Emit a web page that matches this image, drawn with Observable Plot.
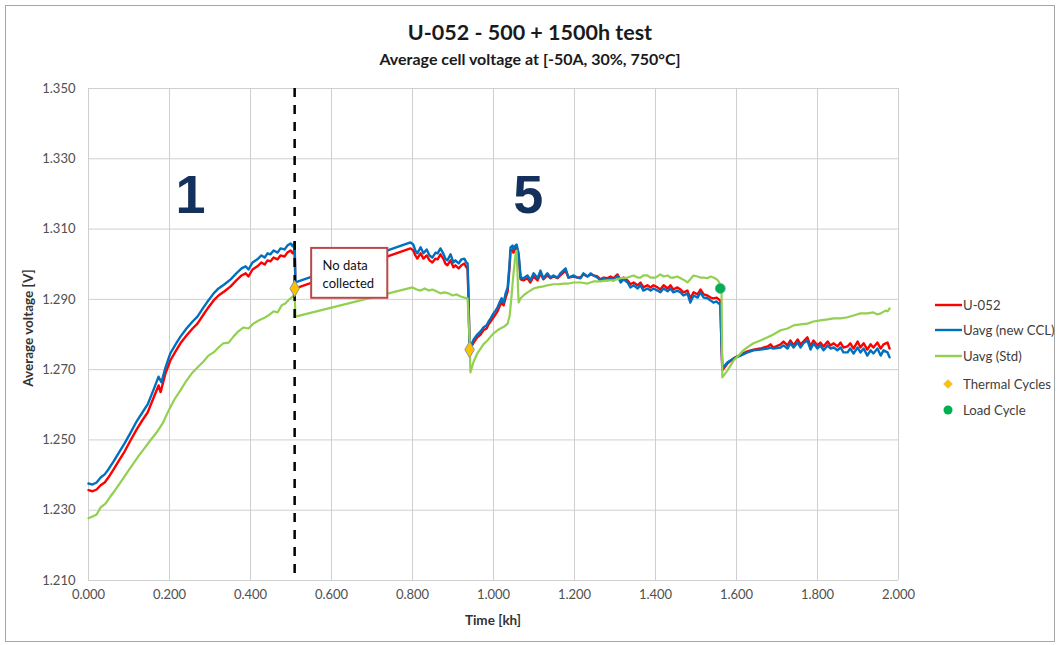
<!DOCTYPE html>
<html>
<head>
<meta charset="utf-8">
<script src="https://cdn.jsdelivr.net/npm/d3@7"></script>
<script src="https://cdn.jsdelivr.net/npm/@observablehq/plot@0.6"></script>
<style>
  html, body { margin: 0; padding: 0; background: #fff; }
  #wrap { position: relative; width: 1060px; height: 645px; font-family: Lato, "Open Sans", sans-serif; overflow: hidden; }
  #frame { position: absolute; left: 5px; top: 5px; width: 1050px; height: 637px; border: 1px solid #a6a6a6; box-sizing: border-box; }
  #title { position: absolute; left: 0; width: 1060px; top: 19px; text-align: center; font-weight: 700; font-size: 21.5px; line-height: 26px; color: #1a1a1a; }
  #subtitle { position: absolute; left: 0; width: 1060px; top: 49px; text-align: center; font-weight: 700; font-size: 16px; line-height: 20px; color: #1a1a1a; }
  #chart { position: absolute; left: 0; top: 70px; }
  #ylabel { position: absolute; left: 28px; top: 328px; transform: translate(-50%, -50%) rotate(-90deg); font-weight: 700; font-size: 13.5px; color: #333; white-space: nowrap; }
  #xlabel { position: absolute; left: 493px; top: 620px; transform: translate(-50%, -50%); font-weight: 700; font-size: 13.5px; color: #333; white-space: nowrap; }
  #legend { position: absolute; left: 934px; top: 0; font-size: 13.2px; color: #404040; }
  .item { position: absolute; left: 0; height: 18px; display: flex; align-items: center; white-space: nowrap; transform: translateY(-50%); }
  .item svg { margin-right: 1px; }
</style>
</head>
<body>
<div id="wrap">
  <div id="frame"></div>
  <div id="title">U-052 - 500 + 1500h test</div>
  <div id="subtitle">Average cell voltage at [-50A, 30%, 750°C]</div>
  <div id="chart"></div>
  <div id="ylabel">Average voltage [V]</div>
  <div id="xlabel">Time [kh]</div>
  <div id="legend"></div>
</div>
<script>
// ---- Data (time in kh, voltage in V) ----
const xTicks = [0, 0.2, 0.4, 0.6, 0.8, 1.0, 1.2, 1.4, 1.6, 1.8, 2.0];
const yTicks = [1.21, 1.23, 1.25, 1.27, 1.29, 1.31, 1.33, 1.35];

const u052 = [
 [0.000,1.2357],[0.010,1.2354],[0.020,1.2359],[0.030,1.2371],[0.040,1.2379],[0.049,1.2393],[0.062,1.2416],[0.074,1.2439],
 [0.089,1.2467],[0.104,1.2499],[0.119,1.2530],[0.133,1.2556],[0.146,1.2578],[0.165,1.2632],[0.173,1.2655],[0.178,1.2636],
 [0.190,1.2689],[0.202,1.2726],[0.215,1.2752],[0.227,1.2775],[0.242,1.2797],[0.257,1.2817],[0.269,1.2831],[0.284,1.2857],
 [0.296,1.2877],[0.309,1.2897],[0.321,1.2911],[0.336,1.2923],[0.351,1.2937],[0.365,1.2954],[0.378,1.2968],[0.388,1.2974],
 [0.395,1.2965],[0.405,1.2985],[0.417,1.2994],[0.427,1.3005],[0.435,1.2999],[0.442,1.3011],[0.449,1.3008],[0.457,1.3019],
 [0.467,1.3014],[0.474,1.3025],[0.484,1.3022],[0.491,1.3033],[0.499,1.3039],[0.504,1.3031],[0.509,1.3042],[0.511,1.2931],
 [0.795,1.3045],[0.802,1.3039],[0.807,1.3025],[0.812,1.3016],[0.820,1.3031],[0.827,1.3016],[0.835,1.3025],[0.842,1.3011],
 [0.849,1.3005],[0.857,1.3016],[0.862,1.3014],[0.869,1.3028],[0.877,1.3014],[0.881,1.3002],[0.886,1.2997],[0.894,1.3011],
 [0.901,1.2991],[0.906,1.2997],[0.914,1.2988],[0.921,1.2997],[0.928,1.3002],[0.933,1.2991],[0.936,1.2988],[0.938,1.2911],
 [0.941,1.2757],[0.951,1.2777],[0.960,1.2792],[0.968,1.2800],[0.975,1.2812],[0.983,1.2817],[0.988,1.2829],[0.993,1.2837],
 [1.000,1.2849],[1.005,1.2857],[1.010,1.2866],[1.015,1.2880],[1.020,1.2891],[1.025,1.2883],[1.030,1.2905],[1.035,1.2923],
 [1.040,1.2997],[1.042,1.3039],[1.047,1.3042],[1.049,1.3033],[1.054,1.3045],[1.057,1.3048],[1.062,1.3022],[1.067,1.2957],
 [1.074,1.2954],[1.084,1.2960],[1.091,1.2948],[1.099,1.2965],[1.109,1.2954],[1.116,1.2974],[1.123,1.2957],[1.133,1.2968],
 [1.141,1.2960],[1.148,1.2965],[1.158,1.2960],[1.165,1.2968],[1.178,1.2982],[1.185,1.2962],[1.198,1.2965],[1.207,1.2962],
 [1.215,1.2962],[1.222,1.2971],[1.232,1.2965],[1.240,1.2971],[1.247,1.2968],[1.257,1.2965],[1.264,1.2957],[1.272,1.2962],
 [1.281,1.2960],[1.289,1.2965],[1.296,1.2960],[1.306,1.2971],[1.314,1.2954],[1.321,1.2962],[1.331,1.2954],[1.338,1.2943],
 [1.346,1.2948],[1.356,1.2940],[1.363,1.2948],[1.370,1.2934],[1.380,1.2940],[1.388,1.2934],[1.395,1.2940],[1.405,1.2934],
 [1.412,1.2928],[1.420,1.2940],[1.430,1.2931],[1.437,1.2940],[1.444,1.2928],[1.454,1.2934],[1.462,1.2928],[1.469,1.2920],
 [1.479,1.2925],[1.486,1.2903],[1.494,1.2920],[1.504,1.2914],[1.511,1.2928],[1.519,1.2914],[1.528,1.2911],[1.536,1.2905],
 [1.543,1.2903],[1.551,1.2905],[1.556,1.2900],[1.560,1.2897],[1.563,1.2769],[1.565,1.2698],[1.578,1.2718],[1.593,1.2732],
 [1.610,1.2743],[1.627,1.2752],[1.642,1.2757],[1.659,1.2760],[1.677,1.2766],[1.684,1.2772],[1.691,1.2763],[1.709,1.2772],
 [1.716,1.2780],[1.726,1.2769],[1.733,1.2783],[1.741,1.2769],[1.751,1.2786],[1.758,1.2772],[1.765,1.2780],[1.775,1.2792],
 [1.783,1.2766],[1.790,1.2783],[1.800,1.2769],[1.807,1.2777],[1.815,1.2766],[1.825,1.2780],[1.832,1.2769],[1.840,1.2775],
 [1.849,1.2766],[1.857,1.2777],[1.864,1.2763],[1.874,1.2766],[1.881,1.2775],[1.889,1.2760],[1.899,1.2780],[1.906,1.2763],
 [1.914,1.2775],[1.923,1.2757],[1.931,1.2772],[1.938,1.2763],[1.948,1.2777],[1.956,1.2760],[1.963,1.2772],[1.973,1.2777],
 [1.978,1.2760]
];

const uavgNewCCL = [
 [0.000,1.2376],[0.010,1.2373],[0.020,1.2379],[0.030,1.2393],[0.040,1.2402],[0.049,1.2416],[0.062,1.2439],[0.074,1.2462],
 [0.089,1.2490],[0.104,1.2521],[0.119,1.2553],[0.133,1.2578],[0.146,1.2601],[0.160,1.2641],[0.173,1.2680],[0.180,1.2664],
 [0.190,1.2706],[0.202,1.2746],[0.215,1.2772],[0.227,1.2794],[0.242,1.2817],[0.257,1.2837],[0.269,1.2851],[0.284,1.2877],
 [0.296,1.2897],[0.309,1.2917],[0.321,1.2931],[0.336,1.2943],[0.351,1.2957],[0.365,1.2974],[0.378,1.2988],[0.388,1.2994],
 [0.395,1.2985],[0.405,1.3005],[0.417,1.3014],[0.427,1.3025],[0.435,1.3019],[0.442,1.3031],[0.449,1.3028],[0.457,1.3039],
 [0.467,1.3033],[0.474,1.3045],[0.484,1.3042],[0.491,1.3053],[0.499,1.3059],[0.504,1.3051],[0.509,1.3062],[0.511,1.2948],
 [0.795,1.3062],[0.802,1.3056],[0.807,1.3039],[0.812,1.3031],[0.820,1.3048],[0.827,1.3031],[0.835,1.3042],[0.842,1.3025],
 [0.849,1.3019],[0.857,1.3033],[0.862,1.3031],[0.869,1.3045],[0.877,1.3028],[0.881,1.3016],[0.886,1.3011],[0.894,1.3028],
 [0.901,1.3005],[0.906,1.3011],[0.914,1.3002],[0.921,1.3014],[0.928,1.3016],[0.933,1.3005],[0.936,1.3002],[0.938,1.2925],
 [0.941,1.2760],[0.951,1.2786],[0.960,1.2800],[0.968,1.2809],[0.975,1.2820],[0.983,1.2826],[0.988,1.2837],[0.993,1.2846],
 [1.000,1.2860],[1.005,1.2868],[1.010,1.2877],[1.015,1.2891],[1.020,1.2903],[1.025,1.2891],[1.030,1.2917],[1.035,1.2934],
 [1.040,1.3005],[1.042,1.3048],[1.047,1.3053],[1.049,1.3042],[1.054,1.3053],[1.057,1.3056],[1.062,1.3031],[1.067,1.2962],
 [1.074,1.2960],[1.084,1.2968],[1.091,1.2954],[1.099,1.2974],[1.109,1.2960],[1.116,1.2982],[1.123,1.2960],[1.133,1.2974],
 [1.141,1.2962],[1.148,1.2968],[1.158,1.2962],[1.165,1.2974],[1.178,1.2988],[1.185,1.2962],[1.198,1.2968],[1.207,1.2962],
 [1.215,1.2960],[1.222,1.2974],[1.232,1.2965],[1.240,1.2974],[1.247,1.2968],[1.257,1.2962],[1.264,1.2954],[1.272,1.2960],
 [1.281,1.2954],[1.289,1.2960],[1.296,1.2954],[1.306,1.2968],[1.314,1.2948],[1.321,1.2957],[1.331,1.2948],[1.338,1.2934],
 [1.346,1.2940],[1.356,1.2931],[1.363,1.2940],[1.370,1.2925],[1.380,1.2931],[1.388,1.2925],[1.395,1.2931],[1.405,1.2925],
 [1.412,1.2920],[1.420,1.2931],[1.430,1.2923],[1.437,1.2931],[1.444,1.2920],[1.454,1.2925],[1.462,1.2920],[1.469,1.2911],
 [1.479,1.2917],[1.486,1.2891],[1.494,1.2911],[1.504,1.2905],[1.511,1.2920],[1.519,1.2905],[1.528,1.2903],[1.536,1.2897],
 [1.543,1.2891],[1.551,1.2894],[1.556,1.2888],[1.560,1.2888],[1.563,1.2769],[1.565,1.2703],[1.578,1.2721],[1.593,1.2732],
 [1.610,1.2740],[1.627,1.2749],[1.642,1.2755],[1.659,1.2757],[1.677,1.2760],[1.684,1.2763],[1.691,1.2760],[1.709,1.2763],
 [1.716,1.2769],[1.726,1.2760],[1.733,1.2775],[1.741,1.2763],[1.751,1.2777],[1.758,1.2763],[1.765,1.2775],[1.775,1.2783],
 [1.783,1.2757],[1.790,1.2775],[1.800,1.2760],[1.807,1.2769],[1.815,1.2755],[1.825,1.2769],[1.832,1.2760],[1.840,1.2763],
 [1.849,1.2755],[1.857,1.2763],[1.864,1.2749],[1.874,1.2749],[1.881,1.2760],[1.889,1.2746],[1.899,1.2763],[1.906,1.2749],
 [1.914,1.2760],[1.923,1.2740],[1.931,1.2755],[1.938,1.2746],[1.948,1.2760],[1.956,1.2740],[1.963,1.2755],[1.973,1.2749],
 [1.978,1.2735]
];

const uavgStd = [
 [0.000,1.2277],[0.010,1.2282],[0.020,1.2288],[0.030,1.2308],[0.042,1.2319],[0.054,1.2339],[0.067,1.2359],[0.079,1.2379],
 [0.094,1.2405],[0.109,1.2430],[0.123,1.2453],[0.138,1.2476],[0.153,1.2499],[0.168,1.2521],[0.183,1.2547],[0.198,1.2584],
 [0.212,1.2615],[0.227,1.2641],[0.242,1.2669],[0.257,1.2692],[0.269,1.2706],[0.284,1.2723],[0.296,1.2740],[0.309,1.2749],
 [0.321,1.2763],[0.333,1.2775],[0.346,1.2777],[0.358,1.2794],[0.370,1.2809],[0.383,1.2820],[0.395,1.2817],[0.407,1.2831],
 [0.420,1.2840],[0.432,1.2846],[0.444,1.2854],[0.457,1.2866],[0.467,1.2863],[0.477,1.2883],[0.486,1.2888],[0.496,1.2900],
 [0.504,1.2908],[0.509,1.2917],[0.511,1.2851],[0.800,1.2934],[0.810,1.2928],[0.820,1.2925],[0.830,1.2931],[0.840,1.2925],
 [0.849,1.2928],[0.859,1.2923],[0.869,1.2917],[0.879,1.2920],[0.889,1.2917],[0.899,1.2911],[0.909,1.2914],[0.919,1.2908],
 [0.928,1.2905],[0.936,1.2903],[0.941,1.2783],[0.943,1.2692],[0.951,1.2723],[0.960,1.2746],[0.968,1.2760],[0.975,1.2772],
 [0.985,1.2783],[0.993,1.2794],[1.000,1.2803],[1.010,1.2812],[1.017,1.2817],[1.027,1.2823],[1.035,1.2831],[1.040,1.2854],
 [1.044,1.2903],[1.049,1.2968],[1.054,1.3025],[1.057,1.3039],[1.062,1.2891],[1.067,1.2903],[1.074,1.2911],[1.084,1.2920],
 [1.091,1.2925],[1.099,1.2931],[1.109,1.2934],[1.123,1.2937],[1.133,1.2940],[1.148,1.2943],[1.158,1.2943],[1.173,1.2945],
 [1.185,1.2945],[1.198,1.2948],[1.215,1.2948],[1.232,1.2945],[1.247,1.2951],[1.264,1.2951],[1.281,1.2954],[1.296,1.2954],
 [1.314,1.2960],[1.331,1.2962],[1.346,1.2968],[1.356,1.2962],[1.363,1.2962],[1.370,1.2968],[1.380,1.2968],[1.388,1.2962],
 [1.400,1.2962],[1.412,1.2971],[1.420,1.2965],[1.430,1.2968],[1.437,1.2962],[1.444,1.2962],[1.454,1.2965],[1.462,1.2960],
 [1.472,1.2954],[1.479,1.2948],[1.486,1.2957],[1.494,1.2968],[1.504,1.2965],[1.511,1.2962],[1.519,1.2962],[1.528,1.2960],
 [1.536,1.2965],[1.543,1.2962],[1.551,1.2957],[1.556,1.2951],[1.560,1.2940],[1.563,1.2931],[1.565,1.2678],[1.578,1.2698],
 [1.593,1.2726],[1.605,1.2740],[1.617,1.2755],[1.630,1.2766],[1.642,1.2775],[1.659,1.2783],[1.677,1.2792],[1.691,1.2800],
 [1.709,1.2812],[1.726,1.2817],[1.741,1.2826],[1.758,1.2829],[1.775,1.2831],[1.790,1.2837],[1.807,1.2840],[1.825,1.2843],
 [1.840,1.2846],[1.857,1.2846],[1.874,1.2849],[1.889,1.2854],[1.906,1.2860],[1.923,1.2860],[1.938,1.2863],[1.948,1.2857],
 [1.956,1.2860],[1.968,1.2868],[1.973,1.2866],[1.978,1.2874]
];

const thermalCycles = [[0.509,1.2931],[0.941,1.2757]];
const loadCycles = [[1.560,1.2931]];
const dividerTime = [0.509];
const phaseLabels = [[0.252,1.3196,"1"],[1.086,1.3196,"5"]];
const noteBox = [[0.551,0.739,1.2903,1.3045]];
const noteText = [[0.578,1.2974,"No data\ncollected"]];

const legendItems = [
  {label:"U-052", kind:"line", color:"#ff0000"},
  {label:"Uavg (new CCL)", kind:"line", color:"#0070c0"},
  {label:"Uavg (Std)", kind:"line", color:"#92d050"},
  {label:"Thermal Cycles", kind:"diamond", color:"#ffc000"},
  {label:"Load Cycle", kind:"circle", color:"#00b050"}
];

// ---- Chart ----
const fmt = d3.format(".3f");
const chart = Plot.plot({
  width: 1060,
  height: 575,
  marginLeft: 88,
  marginRight: 162,
  marginTop: 18,
  marginBottom: 65,
  style: {fontFamily: "Lato, 'Open Sans', sans-serif", fontSize: "13px", color: "#505050", background: "transparent"},
  x: {domain: [0, 2], ticks: xTicks, tickFormat: fmt, label: null},
  y: {domain: [1.21, 1.35], ticks: yTicks, tickFormat: fmt, label: null},
  marks: [
    Plot.gridX(xTicks, {stroke: "#cfcfcf", strokeOpacity: 1}),
    Plot.gridY(yTicks, {stroke: "#cfcfcf", strokeOpacity: 1}),
    Plot.axisX(xTicks, {tickSize: 0, tickPadding: 9, tickFormat: fmt, fill: "#505050"}),
    Plot.axisY(yTicks, {tickSize: 0, tickPadding: 13, tickFormat: fmt, fill: "#505050"}),
    Plot.line(u052, {x: d => d[0], y: d => d[1], stroke: "#ff0000", strokeWidth: 2.4}),
    Plot.line(uavgNewCCL, {x: d => d[0], y: d => d[1], stroke: "#0070c0", strokeWidth: 2.4}),
    Plot.line(uavgStd, {x: d => d[0], y: d => d[1], stroke: "#92d050", strokeWidth: 2.2}),
    Plot.ruleX(dividerTime, {stroke: "#000", strokeWidth: 2.5, strokeDasharray: "9,8"}),
    Plot.rect(noteBox, {x1: d => d[0], x2: d => d[1], y1: d => d[2], y2: d => d[3], fill: "#fff", stroke: "#b84a47", strokeWidth: 2}),
    Plot.text(noteText, {x: d => d[0], y: d => d[1], text: d => d[2], textAnchor: "start", lineHeight: 1.4, fontSize: 13, fill: "#111"}),
    Plot.text(phaseLabels, {x: d => d[0], y: d => d[1], text: d => d[2], fontSize: 54, fontWeight: "bold", fontFamily: "'Liberation Sans', Arial, sans-serif", fill: "#14305c"}),
    Plot.dot(thermalCycles, {x: d => d[0], y: d => d[1], symbol: "diamond", r: 5, fill: "#ffc000", stroke: "#8497b0", strokeWidth: 1}),
    Plot.dot(loadCycles, {x: d => d[0], y: d => d[1], symbol: "circle", r: 5, fill: "#00b050", stroke: "#7f9fbf", strokeWidth: 0.8})
  ]
});
document.getElementById("chart").appendChild(chart);

// ---- Legend ----
const legendY = [305, 330, 356, 384, 410];
const legend = document.getElementById("legend");
legendItems.forEach((it, i) => {
  const div = document.createElement("div");
  div.className = "item";
  div.style.top = legendY[i] + "px";
  let sw;
  if (it.kind === "line") {
    sw = `<svg width="28" height="10"><line x1="1" y1="5" x2="28" y2="5" stroke="${it.color}" stroke-width="2.4"/></svg>`;
  } else if (it.kind === "diamond") {
    sw = `<svg width="28" height="12"><path d="M14,1.5 L18.5,6 L14,10.5 L9.5,6 Z" fill="${it.color}" stroke="#bfbfbf" stroke-width="0.6"/></svg>`;
  } else {
    sw = `<svg width="28" height="12"><circle cx="14" cy="6" r="4.5" fill="${it.color}"/></svg>`;
  }
  div.innerHTML = sw + `<span>${it.label}</span>`;
  legend.appendChild(div);
});
</script>
</body>
</html>
